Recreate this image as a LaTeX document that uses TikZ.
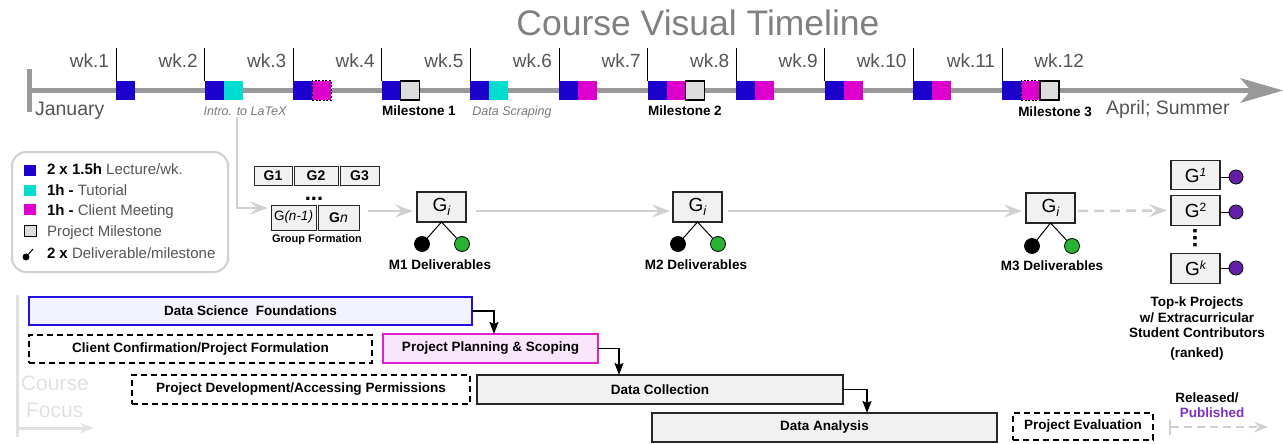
\documentclass[tikz,border=0pt]{standalone}
\usepackage{fontspec}
\setmainfont{Liberation Sans}
\usetikzlibrary{arrows.meta}
\definecolor{clec}{RGB}{28,0,204}
\definecolor{ctut}{RGB}{0,221,208}
\definecolor{ccli}{RGB}{221,0,204}
\definecolor{cmsf}{RGB}{221,221,221}
\definecolor{tlg}{RGB}{153,153,153}
\definecolor{lgr}{RGB}{208,208,208}
\definecolor{txg}{RGB}{85,85,85}
\definecolor{ttl}{RGB}{128,128,128}
\definecolor{itg}{RGB}{120,120,120}
\definecolor{grn}{RGB}{40,180,50}
\definecolor{pur}{RGB}{100,30,170}
\definecolor{pub}{RGB}{120,50,200}
\definecolor{dsfb}{RGB}{34,17,221}
\definecolor{dsff}{RGB}{243,243,253}
\definecolor{ppsb}{RGB}{221,34,204}
\definecolor{ppsf}{RGB}{250,230,250}
\definecolor{boxf}{RGB}{241,241,241}
\definecolor{cfg}{RGB}{225,225,225}
\newcommand\fsz[1]{\fontsize{#1}{#1}\selectfont}
\begin{document}
\begin{tikzpicture}[x=1pt,y=-1pt,
  every node/.style={inner sep=0pt, outer sep=0pt},
  wk/.style={anchor=base east, text=txg, font=\fsz{19}},
  sq/.style={anchor=north west, minimum width=19pt, minimum height=19pt},
  sqlec/.style={sq, fill=clec},
  sqtut/.style={sq, fill=ctut},
  sqcli/.style={sq, fill=ccli},
  sqclid/.style={sq, fill=ccli, draw=black, line width=1pt, dash pattern=on 2pt off 1.5pt},
  sqmst/.style={sq, fill=cmsf, draw=black, line width=1.2pt},
  wtick/.style={draw=black, line width=0.8pt},
  itl/.style={anchor=base, font=\fsz{12.5}\itshape, text=itg},
  bl/.style={font=\fsz{13.5}\bfseries},
  legsq/.style={anchor=north west, minimum width=12pt, minimum height=11pt},
  legtx/.style={anchor=base west, font=\fsz{15}, text=txg},
  gfbox/.style={draw=black!85, fill=boxf, line width=1pt, font=\fsz{14}\bfseries},
  gbox/.style={draw=black!85, fill=boxf, line width=1.1pt, minimum width=49pt, minimum height=30pt, font=\fsz{19}},
  dotn/.style={circle, draw=black, line width=0.8pt, minimum size=15pt},
  garrow/.style={draw=lgr, line width=2.5pt, -{Stealth[length=18pt,width=13pt,inset=7pt]}},
  bbox/.style={anchor=north west, line width=1.3pt, font=\fsz{13.5}\bfseries},
  dbox/.style={bbox, draw=black, dash pattern=on 6pt off 4pt},
  barrow/.style={draw=black, line width=1.6pt, -{Stealth[length=12pt,width=9pt,inset=2pt]}}
]
\useasboundingbox (0,0) rectangle (1283,444);
% title
\node[font=\fsz{35.5}, text=ttl] (title) at (698,23) {Course Visual Timeline};
% timeline
\draw[tlg, line width=5pt] (29,90.5) -- (1252,90.5);
\draw[tlg, line width=5pt] (29,69) -- (29,112);
\fill[tlg] (1240,78) -- (1283,90.5) -- (1240,103) -- (1251,90.5) -- cycle;
% squares
\node[sqlec] (l1) at (116,81) {};
\node[sqlec] (l2) at (204.6,81) {}; \node[sqtut] (w2b) at (223.6,81) {};
\node[sqlec] (l3) at (293.2,81) {}; \node[sqclid] (w3b) at (312.2,81) {};
\node[sqlec] (l4) at (381.8,81) {}; \node[sqmst] (w4b) at (400.8,81) {};
\node[sqlec] (l5) at (470.4,81) {}; \node[sqtut] (w5b) at (489.4,81) {};
\node[sqlec] (l6) at (559,81) {}; \node[sqcli] (w6b) at (578,81) {};
\node[sqlec] (l7) at (647.6,81) {}; \node[sqcli] (w7b) at (666.6,81) {}; \node[sqmst] (w7c) at (685.6,81) {};
\node[sqlec] (l8) at (736.2,81) {}; \node[sqcli] (w8b) at (755.2,81) {};
\node[sqlec] (l9) at (824.8,81) {}; \node[sqcli] (w9b) at (843.8,81) {};
\node[sqlec] (l10) at (913.4,81) {}; \node[sqcli] (w10b) at (932.4,81) {};
\node[sqlec] (l11) at (1002,81) {}; \node[sqclid] (w11b) at (1021,81) {}; \node[sqmst] (w11c) at (1040,81) {};
\foreach \n in {1,...,11} \draw[wtick] (l\n.north west) -- ++(0,-33);
\foreach \n/\x in {1/116,2/204.6,3/293.2,4/381.8,5/470.4,6/559,7/647.6,8/736.2,9/824.8,10/913.4,11/1002,12/1091}
  \node[wk] (wk\n) at ({\x-7},67) {wk.\n};
% labels under timeline
\node[anchor=base west, font=\fsz{19.5}, text=txg] (jan) at (35,115) {January};
\node[anchor=base west, font=\fsz{19.5}, text=txg] (apr) at (1106,114) {April; Summer};
\node[itl] (intro) at (245,115) {Intro. to LaTeX};
\node[itl] (scrap) at (512,115) {Data Scraping};
\node[bl, anchor=base] (ms1) at (419,115) {Milestone 1};
\node[bl, anchor=base] (ms2) at (685,115) {Milestone 2};
\node[bl, anchor=base] (ms3) at (1055,117) {Milestone 3};
% legend
\node[draw=lgr, line width=2pt, rounded corners=14pt, minimum width=216pt, minimum height=120pt, anchor=north west] (legend) at (12,152) {};
\node[legsq, fill=clec] (k1) at (24,165) {};
\node[legsq, fill=ctut] (k2) at (24,185) {};
\node[legsq, fill=ccli] (k3) at (24,204) {};
\node[legsq, fill=cmsf, draw=black, line width=1pt] (k4) at (24.5,225) {};
\node[circle, fill=black, minimum size=7pt] (k5) at (26,257) {};
\coordinate (k5e) at (33,249);
\draw[black, line width=1pt] (k5) -- (k5e);
\node[legtx] (t1) at (47,174) {{\color{black}\bfseries 2 x 1.5h} Lecture/wk.};
\node[legtx] (t2) at (47,195) {{\color{black}\bfseries 1h -} Tutorial};
\node[legtx] (t3) at (47,215) {{\color{black}\bfseries 1h -} Client Meeting};
\node[legtx] (t4) at (47,236) {Project Milestone};
\node[legtx] (t5) at (47,258) {{\color{black}\bfseries 2 x} Deliverable/milestone};
% group formation
\node[gfbox, minimum width=38pt, minimum height=19pt] (ga) at (273,175.5) {G1};
\node[gfbox, minimum width=44pt, minimum height=19pt] (gb) at (316,175.5) {G2};
\node[gfbox, minimum width=39pt, minimum height=19pt] (gc) at (359.5,175.5) {G3};
\node[font=\fsz{22}\bfseries, anchor=base] (gdots) at (314,200) {\smash{...}};
\node[gfbox, font=\fsz{13.5}, minimum width=45pt, minimum height=25pt] (gnm) at (293.5,217.5) {G{\itshape(n-1)}};
\node[gfbox, minimum width=41pt, minimum height=25pt] (gn) at (338.5,217.5) {G{\mdseries\itshape n}};
\node[font=\fsz{11}\bfseries] (gform) at (317,240) {Group Formation};
\draw[garrow] ([xshift=-8pt,yshift=-2pt]intro.south) |- ([xshift=-3pt,yshift=9.5pt]gnm.west);
% milestone groups
\node[gbox] (g1) at (441.5,207) {G\raisebox{-4pt}{\fsz{13}\itshape i}};
\node[gbox] (g2) at (697.5,207) {G\raisebox{-4pt}{\fsz{13}\itshape i}};
\node[gbox] (g3) at (1050.5,208) {G\raisebox{-4pt}{\fsz{13}\itshape i}};
\draw[garrow, shorten >=4pt] ([xshift=9pt,yshift=6.5pt]gn.east) -- ([yshift=-4pt]g1.west);
\draw[garrow, shorten >=3pt] ([xshift=10pt,yshift=-4pt]g1.east) -- ([yshift=-4pt]g2.west);
\draw[garrow, shorten >=4pt] ([xshift=6pt,yshift=-4pt]g2.east) -- ([yshift=-3pt]g3.west);
\node[dotn, fill=black] (d1a) at (422,244) {};
\node[dotn, fill=grn] (d1b) at (462,244) {};
\node[dotn, fill=black] (d2a) at (678,244) {};
\node[dotn, fill=grn] (d2b) at (718,244) {};
\node[dotn, fill=black] (d3a) at (1032,246) {};
\node[dotn, fill=grn] (d3b) at (1072,246) {};
\foreach \g/\a/\b in {g1/d1a/d1b, g2/d2a/d2b, g3/d3a/d3b} {
  \draw[black, line width=1pt] (\a) -- (\g.south) -- (\b);
}
\node[bl] (m1d) at (440,265) {M1 Deliverables};
\node[bl] (m2d) at (696,265) {M2 Deliverables};
\node[bl] (m3d) at (1052,266) {M3 Deliverables};
% top-k
\node[gbox, minimum height=29.5pt] (tk1) at (1195.5,175) {G\raisebox{6pt}{\fsz{12}\itshape 1}};
\node[gbox, minimum height=29.5pt] (tk2) at (1195.5,210.5) {G\raisebox{6pt}{\fsz{12}2}};
\node[gbox, minimum height=29.5pt] (tkk) at (1195.5,268.5) {G\raisebox{6pt}{\fsz{12}\itshape k}};
\node[font=\fsz{24}\bfseries, rotate=90] (vdots) at (1195,238) {...};
\draw[garrow, dash pattern=on 10pt off 6pt, shorten >=4pt] ([xshift=3pt,yshift=-3pt]g3.east) -- (tk2.west);
\node[dotn, fill=pur, minimum size=14pt] (p1) at (1236,177) {};
\node[dotn, fill=pur, minimum size=14pt] (p2) at (1236,212) {};
\node[dotn, fill=pur, minimum size=14pt] (pk) at (1236,268) {};
\draw[black, line width=1pt] (tk1.east |- p1) -- (p1);
\draw[black, line width=1pt] (tk2.east |- p2) -- (p2);
\draw[black, line width=1pt] (tkk.east |- pk) -- (pk);
\node[align=center, anchor=north, font=\fontsize{13.5}{15.5}\selectfont\bfseries] (topk) at (1197,297) {Top-k Projects\\ w/ Extracurricular\\ Student Contributors\\[4pt] (ranked)};
% course focus
\draw[cfg, line width=3pt] (17,295) -- (17,437);
\coordinate (cfa) at (17,428);
\coordinate (cfb) at (94,428);
\draw[cfg, line width=3pt, -{Stealth[length=14pt,width=10pt,inset=5pt]}] (cfa) -- (cfb);
\node[anchor=base west, font=\fsz{21}, text=cfg] (cf1) at (21,390) {Course};
\node[anchor=base west, font=\fsz{21}, text=cfg] (cf2) at (26,417) {Focus};
% bottom bars
\node[bbox, draw=dsfb, fill=dsff, minimum width=443pt, minimum height=28pt] (dsf) at (29,297) {Data Science\ \ Foundations};
\node[dbox, minimum width=343pt, minimum height=28pt] (ccp) at (29,335) {Client Confirmation/Project Formulation};
\node[bbox, draw=ppsb, fill=ppsf, minimum width=215pt, minimum height=29pt] (pps) at (383,334) {Project Planning \& Scoping};
\node[dbox, minimum width=338pt, minimum height=29pt] (pdp) at (132,375) {Project Development/Accessing Permissions};
\node[bbox, draw=black!85, fill=boxf, minimum width=366pt, minimum height=29pt] (dc) at (477,375) {Data Collection};
\node[bbox, draw=black!85, fill=boxf, minimum width=345pt, minimum height=29pt] (da) at (652,413) {Data Analysis};
\node[dbox, minimum width=140pt, minimum height=27pt] (pe) at (1013,413) {Project Evaluation};
\draw[barrow] (dsf.east) -| ([xshift=111pt]pps.north west);
\draw[barrow] (pps.east) -| ([xshift=142pt]dc.north west);
\draw[barrow] (dc.east) -| ([xshift=215pt]da.north west);
% released
\node[bl] (rel) at (1207,398) {Released/};
\node[bl, text=pub] (pubn) at (1212,413) {Published};
\coordinate (rs) at (1169,427);
\coordinate (re) at (1268,427);
\draw[draw=lgr, line width=2pt, dash pattern=on 8pt off 5pt, {Bar[width=15pt]}-{Stealth[length=14pt,width=11pt,inset=5pt]}] (rs) -- (re);
\end{tikzpicture}
\end{document}
